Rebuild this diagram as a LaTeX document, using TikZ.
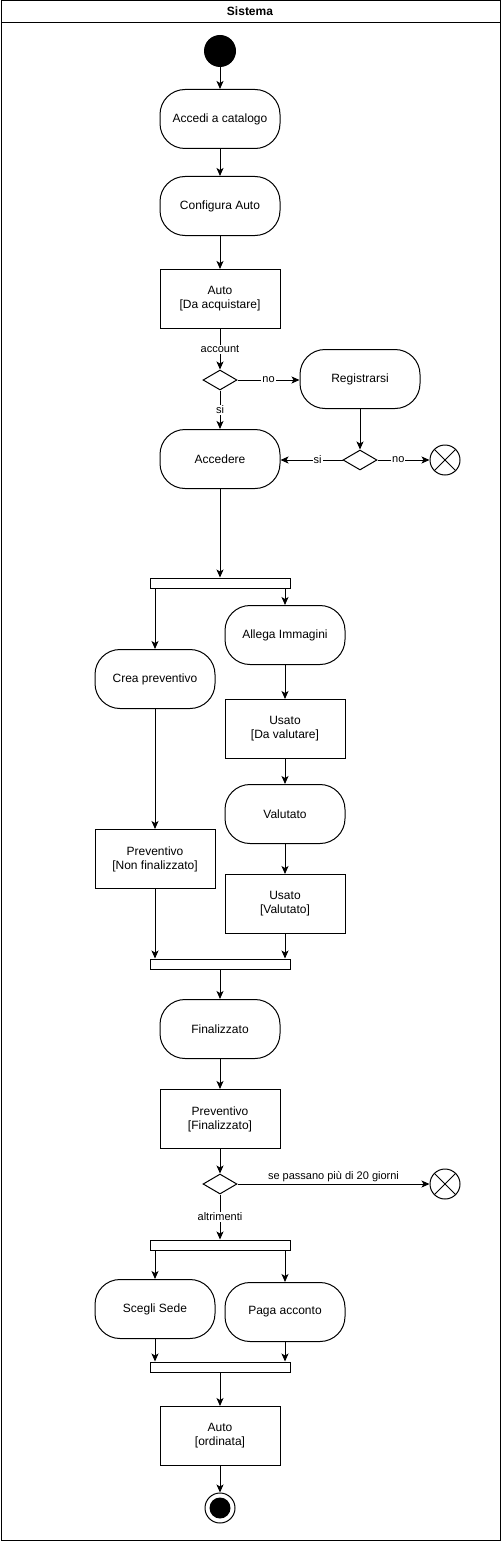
\documentclass[tikz,border=0pt]{standalone}
\usepackage{fontspec}
\setmainfont{Liberation Sans}
\usetikzlibrary{arrows.meta,shapes.geometric}
\tikzset{
  action/.style={draw,line width=1pt,rounded corners=25pt,minimum width=120,minimum height=59,align=center,font=\fontsize{12}{14}\selectfont},
  object/.style={draw,line width=1pt,minimum width=120,minimum height=59,align=center,font=\fontsize{12}{14}\selectfont},
  bar/.style={draw,line width=1pt,minimum width=140,minimum height=10,inner sep=0},
  choice/.style={draw,line width=1pt,diamond,minimum width=34,minimum height=20,inner sep=0},
  flowend/.style={draw,line width=1pt,circle,minimum size=30,inner sep=0,
    path picture={\draw (path picture bounding box.north west) -- (path picture bounding box.south east)
      (path picture bounding box.north east) -- (path picture bounding box.south west);}},
  edgelabel/.style={fill=white,inner sep=1pt,font=\fontsize{11}{13}\selectfont},
  flow/.style={line width=1pt,-{Stealth[length=8pt,width=7pt,inset=2pt]}}
}
\begin{document}
\begin{tikzpicture}[x=1pt,y=-1pt]
\useasboundingbox (0,0) rectangle (501,1541);
% lane
\draw[line width=1pt] (1,1) rectangle (500,1540);
\draw[line width=1pt] (1,23) -- (500,23);
\node[font=\bfseries\fontsize{12}{14}\selectfont] (lane) at (250,11) {Sistema};
% nodes
\node[circle,fill,minimum size=32,inner sep=0] (start) at (220,51) {};
\node[action] (catalogo) at (220,119) {Accedi a catalogo};
\node[action] (configura) at (220,206) {Configura Auto};
\node[object] (autoacq) at (220,299) {Auto\\{}[Da acquistare]};
\node[choice] (dec1) at (220,380) {};
\node[action] (registra) at (360,379) {Registrarsi};
\node[action] (accedere) at (220,459) {Accedere};
\node[choice] (dec2) at (360,460) {};
\node[flowend] (stop1) at (445,460) {};
\node[bar] (fork1) at (220,583) {};
\node[action] (crea) at (155,679) {Crea preventivo};
\node[action] (allega) at (285,635) {Allega Immagini};
\node[object] (usatoval) at (285,729) {Usato\\{}[Da valutare]};
\node[action] (valutato) at (285,814) {Valutato};
\node[object] (usatook) at (285,904) {Usato\\{}[Valutato]};
\node[object] (prevnon) at (155,859) {Preventivo\\{}[Non finalizzato]};
\node[bar] (join1) at (220,964) {};
\node[action] (finalizzato) at (220,1029) {Finalizzato};
\node[object] (prevfin) at (220,1119) {Preventivo\\{}[Finalizzato]};
\node[choice] (dec3) at (220,1184) {};
\node[flowend] (stop2) at (445,1184) {};
\node[bar] (fork2) at (220,1245) {};
\node[action] (sede) at (155,1309) {Scegli Sede};
\node[action] (acconto) at (285,1312) {Paga acconto};
\node[bar] (join2) at (220,1367) {};
\node[object] (autoord) at (220,1436) {Auto\\{}[ordinata]};
\node[circle,draw,line width=1pt,minimum size=30,inner sep=0] (finish) at (220,1508) {};
\node[circle,fill,minimum size=21,inner sep=0] (finishdot) at (finish) {};
% connectors
\draw[flow] (start) -- (catalogo);
\draw[flow] (catalogo) -- (configura);
\draw[flow] (configura) -- (autoacq);
\draw[flow] (autoacq) -- node[edgelabel] {account} (dec1);
\draw[flow] (dec1) -- node[edgelabel] {no} (registra.west |- dec1);
\draw[flow] (dec1) -- node[edgelabel] {si} (accedere);
\draw[flow] (registra) -- (dec2);
\draw[flow] (dec2) -- node[edgelabel,pos=0.4] {si} (accedere.east |- dec2);
\draw[flow] (dec2) -- node[edgelabel,pos=0.4] {no} (stop1);
\draw[flow] (accedere) -- (fork1);
\draw[flow] (fork1.south -| crea) -- (crea);
\draw[flow] (fork1.south -| allega) -- (allega);
\draw[flow] (allega) -- (usatoval);
\draw[flow] (usatoval) -- (valutato);
\draw[flow] (valutato) -- (usatook);
\draw[flow] (crea) -- (prevnon);
\draw[flow] (prevnon) -- (join1.north -| prevnon);
\draw[flow] (usatook) -- (join1.north -| usatook);
\draw[flow] (join1) -- (finalizzato);
\draw[flow] (finalizzato) -- (prevfin);
\draw[flow] (prevfin) -- (dec3);
\draw[flow] (dec3) -- node[edgelabel,above,fill=none,yshift=1pt] {se passano più di 20 giorni} (stop2);
\draw[flow] (dec3) -- node[edgelabel] {altrimenti} (fork2);
\draw[flow] (fork2.south -| sede) -- (sede);
\draw[flow] (fork2.south -| acconto) -- (acconto);
\draw[flow] (sede) -- (join2.north -| sede);
\draw[flow] (acconto) -- (join2.north -| acconto);
\draw[flow] (join2) -- (autoord);
\draw[flow] (autoord) -- (finish);
\end{tikzpicture}
\end{document}
